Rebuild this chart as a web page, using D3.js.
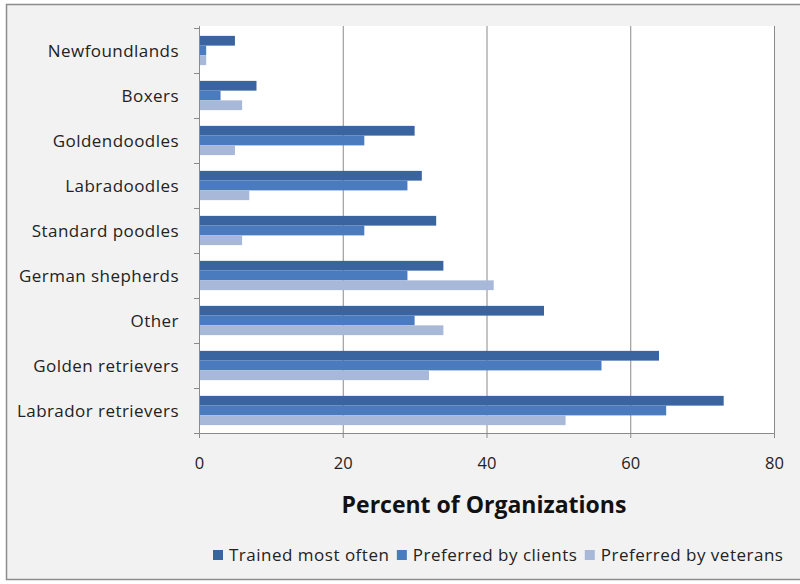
<!DOCTYPE html>
<html><head><meta charset="utf-8">
<script src="https://cdn.jsdelivr.net/npm/d3@7/dist/d3.min.js"></script>
<style>body{margin:0;background:#fff;} svg{display:block;font-family:"Open Sans",Lato,sans-serif;}</style>
</head><body>
<svg id="c" width="800" height="584"></svg>
<script>
const categories = ["Newfoundlands","Boxers","Goldendoodles","Labradoodles","Standard poodles","German shepherds","Other","Golden retrievers","Labrador retrievers"];
const seriesNames = ["Trained most often","Preferred by clients","Preferred by veterans"];
const trained = [5, 8, 30, 31, 33, 34, 48, 64, 73];
const clients = [1, 3, 23, 29, 23, 29, 30, 56, 65];
const veterans = [1, 6, 5, 7, 6, 41, 34, 32, 51];
const xTicks = [0, 20, 40, 60, 80];
const colors = ["#3a64a0", "#4a7bbe", "#a8b8d9"];

const svg = d3.select("#c");
svg.append("rect").attr("x",0).attr("y",0).attr("width",800).attr("height",584).attr("fill","#ffffff");
svg.append("rect").attr("x",6.5).attr("y",4.5).attr("width",800).attr("height",575)
  .attr("fill","#f2f2f2").attr("stroke","#8c8c8c").attr("stroke-width",1.5);

const L=199, R=774, T=28, B=433;
const x = d3.scaleLinear().domain([0,80]).range([L,R]);
const y = d3.scaleBand().domain(categories).range([T,B]).paddingInner(0.35).paddingOuter(0.175);
const sub = d3.scaleBand().domain(seriesNames).range([0,y.bandwidth()]);

svg.append("rect").attr("x",L).attr("y",T-2).attr("width",R-L).attr("height",B-T+2).attr("fill","#fff");

// gridlines
svg.append("g").selectAll("line").data(xTicks.slice(1)).join("line")
  .attr("x1",d=>x(d)+0.5).attr("x2",d=>x(d)+0.5).attr("y1",T-2).attr("y2",B)
  .attr("stroke","#8a8a8a").attr("stroke-width",1);

const data = [trained, clients, veterans];
seriesNames.forEach((s,i)=>{
  svg.append("g").selectAll("rect").data(categories).join("rect")
    .attr("x",x(0)).attr("y",(d)=>y(d)+sub(s))
    .attr("width",(d,j)=>x(data[i][j])-x(0)).attr("height",sub.bandwidth())
    .attr("fill",colors[i]);
});

// x axis
const xa = svg.append("g").attr("transform",`translate(0,${B})`)
  .call(d3.axisBottom(x).tickValues(xTicks).tickSize(5).tickPadding(19));
xa.select(".domain").attr("stroke","#8a8a8a");
xa.selectAll(".tick line").attr("stroke","#8a8a8a");
xa.selectAll("text").attr("font-size",16.5).attr("fill","#222").attr("font-family","'Open Sans',sans-serif");

// y axis
const yLine = svg.append("g");
yLine.append("line").attr("x1",L+0.5).attr("x2",L+0.5).attr("y1",T-2).attr("y2",B+5).attr("stroke","#8a8a8a");
const bounds = d3.range(categories.length+1).map(i=> T + i*y.step());
yLine.selectAll(".tk").data(bounds).join("line").attr("class","tk")
  .attr("x1",L-5).attr("x2",L).attr("y1",d=>d+0.5).attr("y2",d=>d+0.5).attr("stroke","#8a8a8a");
svg.append("g").selectAll("text").data(categories).join("text")
  .attr("x",179).attr("y",d=>y(d)+y.bandwidth()/2+1).attr("dy","0.35em")
  .attr("text-anchor","end").attr("font-size",17).attr("letter-spacing","0.45px").attr("fill","#222").text(d=>d);

svg.append("text").attr("x",484).attr("y",513).attr("text-anchor","middle")
  .attr("font-size",23).attr("font-weight","bold").attr("fill","#111").text("Percent of Organizations");

// legend
const lg = svg.append("g").attr("transform","translate(213,555)");
let lx = 0;
seriesNames.forEach((s,i)=>{
  const g = lg.append("g").attr("transform",`translate(${lx},0)`);
  g.append("rect").attr("x",0).attr("y",-5).attr("width",10).attr("height",10).attr("fill",colors[i]);
  const t = g.append("text").attr("x",16).attr("y",0).attr("dy","0.35em").attr("font-size",17).attr("letter-spacing","0.5px").attr("fill","#222").text(s);
  lx += 16 + t.node().getComputedTextLength() + 7.5;
});
</script>
</body></html>
